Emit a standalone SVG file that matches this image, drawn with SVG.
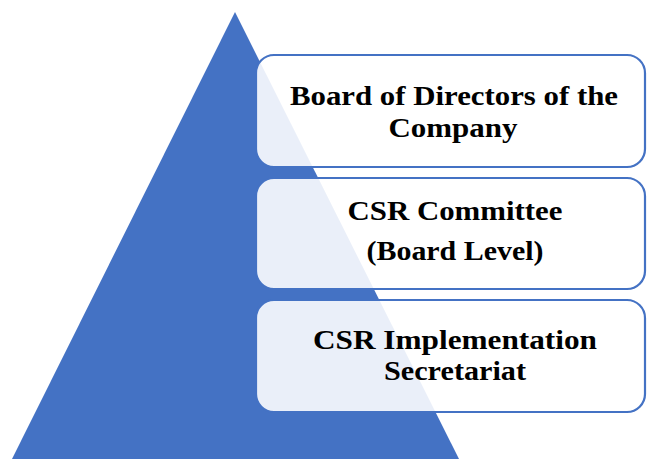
<svg xmlns="http://www.w3.org/2000/svg" width="647" height="459" viewBox="0 0 647 459">
<style>
.box{fill:#ffffff;fill-opacity:0.89;stroke:#4472C4;stroke-width:2.2}
.t{font-family:"Liberation Serif","Times New Roman",serif;font-weight:bold;font-size:27px;fill:#000;text-anchor:middle}
</style>
<rect width="647" height="459" fill="#ffffff"/>
<g id="pyramid"><polygon points="235,12 12,459 459,459" fill="#4472C4"/></g>
<g id="board">
<rect class="box" x="256" y="55" width="389" height="112" rx="18"/>
<text class="t" x="454" y="105" textLength="328" lengthAdjust="spacingAndGlyphs">Board of Directors of the</text>
<text class="t" x="453" y="137" textLength="129" lengthAdjust="spacingAndGlyphs">Company</text>
</g>
<g id="committee">
<rect class="box" x="256" y="178" width="389" height="111" rx="18"/>
<text class="t" x="455" y="220" textLength="215" lengthAdjust="spacingAndGlyphs">CSR Committee</text>
<text class="t" x="455" y="260" textLength="177" lengthAdjust="spacingAndGlyphs">(Board Level)</text>
</g>
<g id="secretariat">
<rect class="box" x="256" y="300" width="389" height="112" rx="18"/>
<text class="t" x="455" y="349" textLength="284" lengthAdjust="spacingAndGlyphs">CSR Implementation</text>
<text class="t" x="455" y="380" textLength="142" lengthAdjust="spacingAndGlyphs">Secretariat</text>
</g>
<g id="connectors"/>
</svg>
